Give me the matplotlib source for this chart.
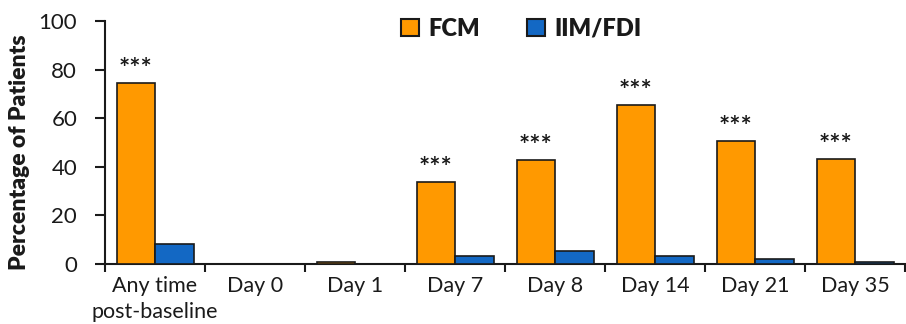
# Percentage of patients by visit, FCM vs IIM/FDI, grouped bars.

import numpy as np
import matplotlib
matplotlib.use('Agg')
import matplotlib.pyplot as plt

plt.rcParams['font.family'] = ['Lato', 'DejaVu Sans']

categories = ['Any time\npost-baseline', 'Day 0', 'Day 1', 'Day 7', 'Day 8', 'Day 14', 'Day 21', 'Day 35']
fcm = [74.5, 0, 1.0, 33.6, 42.7, 65.3, 50.6, 43.1]
iim = [8.2, 0, 0, 3.4, 5.4, 3.4, 2.0, 0.9]
stars = ['***', '', '', '***', '***', '***', '***', '***']

orange = '#FF9900'
blue = '#1368C4'
edge = '#1a1a1a'

fig = plt.figure(figsize=(9.06, 3.24), dpi=100)
ax = fig.add_axes([105 / 906, 1 - 264 / 324, 800 / 906, 243 / 324])

x = np.arange(len(categories))
w = 0.385
ax.bar(x - w / 2, fcm, w, color=orange, edgecolor=edge, linewidth=1.2, label='FCM', zorder=3)
ax.bar(x + w / 2, iim, w, color=blue, edgecolor=edge, linewidth=1.2, label='IIM/FDI', zorder=3)

for xi, v, s in zip(x, fcm, stars):
    if s:
        ax.text(xi - w / 2, v + 1.0, s, ha='center', va='bottom', fontsize=19,
                fontweight='bold', color='#1a1a1a')

ax.set_xlim(-0.5, len(categories) - 0.5)
ax.set_ylim(0, 100)
ax.set_yticks([0, 20, 40, 60, 80, 100])
ax.tick_params(axis='y', labelsize=16, length=7, width=1.5, pad=13, color='#1a1a1a', labelcolor='#1a1a1a')

# boundary ticks as major, labels on minor ticks at group centres
ax.set_xticks(np.arange(-0.5, len(categories), 1.0))
ax.set_xticklabels([])
ax.set_xticks(x, minor=True)
ax.set_xticklabels(categories, minor=True, fontsize=15.5, linespacing=1.35, color='#1a1a1a')
ax.tick_params(axis='x', which='major', length=6, width=1.5, color='#1a1a1a')
ax.tick_params(axis='x', which='minor', length=0, pad=9)

for side in ['top', 'right']:
    ax.spines[side].set_visible(False)
for side in ['left', 'bottom']:
    ax.spines[side].set_linewidth(1.5)
    ax.spines[side].set_color('#1a1a1a')

ax.set_ylabel('Percentage of Patients', fontsize=16.5, fontweight='heavy', color='#1a1a1a')
ax.yaxis.set_label_coords(-0.094, 0.46)

leg = ax.legend(loc='upper center', bbox_to_anchor=(0.52, 1.1), ncol=2, frameon=False,
                prop={'size': 17, 'weight': 'heavy'}, handlelength=0.75, handleheight=0.75,
                handletextpad=0.4, columnspacing=2.0)
for t in leg.get_texts():
    t.set_color('#1a1a1a')
for h in leg.legend_handles:
    h.set_edgecolor(edge)
    h.set_linewidth(1.5)

fig.savefig('out.png', dpi=100)
